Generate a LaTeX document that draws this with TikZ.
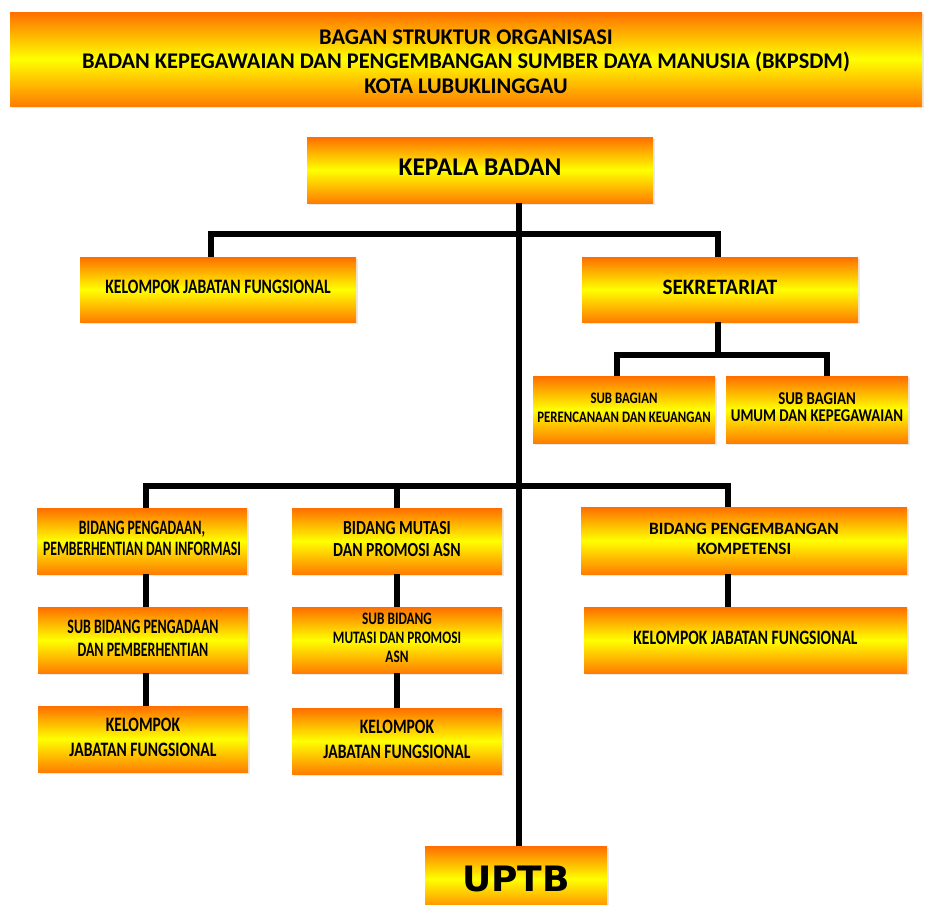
\documentclass[tikz,border=0pt]{standalone}
\usepackage{fontspec}
\setmainfont{Carlito}
\newfontfamily\uptbfont{DejaVu Sans}
\usetikzlibrary{shadows}
\definecolor{orgA}{RGB}{255,110,0}
\definecolor{orgB}{RGB}{255,125,0}
\definecolor{yelA}{RGB}{255,255,0}
\newcommand{\lbl}[4]{\scalebox{#3}[1]{\fontsize{#1}{#2}\selectfont\bfseries\begin{tabular}{@{}c@{}}#4\end{tabular}}}
\tikzset{
  box/.style={inner sep=0pt, draw=none, top color=orgA, bottom color=orgB, middle color=yelA,
    drop shadow={opacity=0.18, shadow xshift=2pt, shadow yshift=-2pt}},
  conn/.style={draw=black, line width=5.5pt}
}
\begin{document}
\begin{tikzpicture}[x=1pt,y=-1pt]
\useasboundingbox[fill=white] (0,0) rectangle (932,905);
% coordinates for connector lines
\coordinate (tx) at (519,0);
\coordinate (xa) at (211,0);
\coordinate (xs) at (718,0);
\coordinate (xp) at (617,0);
\coordinate (xq) at (827,0);
\coordinate (xb1) at (146,0);
\coordinate (xb2) at (397,0);
\coordinate (xb3) at (728,0);
\coordinate (ya) at (0,234);
\coordinate (yb) at (0,355);
\coordinate (yc) at (0,486);
% boxes
\node[box, minimum width=912pt, minimum height=94pt] (title) at (466,59)
  {\raisebox{-5pt}[\height][\depth]{\lbl{22.4}{24.5}{1}{BAGAN STRUKTUR ORGANISASI\\BADAN KEPEGAWAIAN DAN PENGEMBANGAN SUMBER DAYA MANUSIA (BKPSDM)\\KOTA LUBUKLINGGAU}}};
\node[box, minimum width=346pt, minimum height=66pt] (kepala) at (480,170) {\lbl{25.5}{28}{1}{KEPALA BADAN}};
\node[box, minimum width=276pt, minimum height=65pt] (kjf0) at (218,289.5) {\lbl{20.5}{22}{0.764}{KELOMPOK JABATAN FUNGSIONAL}};
\node[box, minimum width=276pt, minimum height=65pt] (sek) at (720,289.5) {\lbl{22}{26}{0.96}{SEKRETARIAT}};
\node[box, minimum width=182pt, minimum height=67pt] (sb1) at (624,409.5) {\lbl{16}{19}{0.8}{SUB BAGIAN\\PERENCANAAN DAN KEUANGAN}};
\node[box, minimum width=182pt, minimum height=67pt] (sb2) at (817,409.5) {\lbl{18}{17}{0.824}{SUB BAGIAN\\UMUM DAN KEPEGAWAIAN}};
\node[box, minimum width=210pt, minimum height=66pt] (b1) at (142,541) {\lbl{20.5}{21}{0.667}{BIDANG PENGADAAN,\\PEMBERHENTIAN DAN INFORMASI}};
\node[box, minimum width=210pt, minimum height=66pt] (b2) at (397,541) {\lbl{20}{22}{0.786}{BIDANG MUTASI\\DAN PROMOSI ASN}};
\node[box, minimum width=326pt, minimum height=67pt] (b3) at (744,540.5) {\lbl{17.3}{20}{1}{BIDANG PENGEMBANGAN\\KOMPETENSI}};
\node[box, minimum width=210pt, minimum height=66pt] (s1) at (143,640) {\lbl{20.5}{23}{0.678}{SUB BIDANG PENGADAAN\\DAN PEMBERHENTIAN}};
\node[box, minimum width=210pt, minimum height=66pt] (s2) at (397,640) {\lbl{17.5}{19}{0.758}{SUB BIDANG\\MUTASI DAN PROMOSI\\ASN}};
\node[box, minimum width=323pt, minimum height=66pt] (k3) at (745.5,640) {\lbl{20.5}{22}{0.76}{KELOMPOK JABATAN FUNGSIONAL}};
\node[box, minimum width=210pt, minimum height=66pt] (k1) at (143,739) {\lbl{20.5}{25}{0.762}{KELOMPOK\\JABATAN FUNGSIONAL}};
\node[box, minimum width=210pt, minimum height=66pt] (k2) at (397,741) {\lbl{20.5}{25}{0.762}{KELOMPOK\\JABATAN FUNGSIONAL}};
\node[box, minimum width=182pt, minimum height=66pt] (uptb) at (516,879) {\scalebox{1.03}[1]{\uptbfont\bfseries\fontsize{35}{40}\selectfont UPTB}};
% connectors
\draw[conn] (kepala.south -| tx) -- (uptb.north -| tx);
\draw[conn] (kjf0.north -| xa) -- (ya -| xa) -- (ya -| xs) -- (sek.north -| xs);
\draw[conn] (sek.south -| xs) -- (yb -| xs);
\draw[conn] (sb1.north -| xp) -- (yb -| xp) -- (yb -| xq) -- (sb2.north -| xq);
\draw[conn] (b1.north -| xb1) -- (yc -| xb1) -- (yc -| xb3) -- (b3.north -| xb3);
\draw[conn] (yc -| xb2) -- (b2.north -| xb2);
\draw[conn] (b1.south -| xb1) -- (s1.north -| xb1);
\draw[conn] (s1.south -| xb1) -- (k1.north -| xb1);
\draw[conn] (b2.south -| xb2) -- (s2.north -| xb2);
\draw[conn] (s2.south -| xb2) -- (k2.north -| xb2);
\draw[conn] (b3.south -| xb3) -- (k3.north -| xb3);
\end{tikzpicture}
\end{document}
